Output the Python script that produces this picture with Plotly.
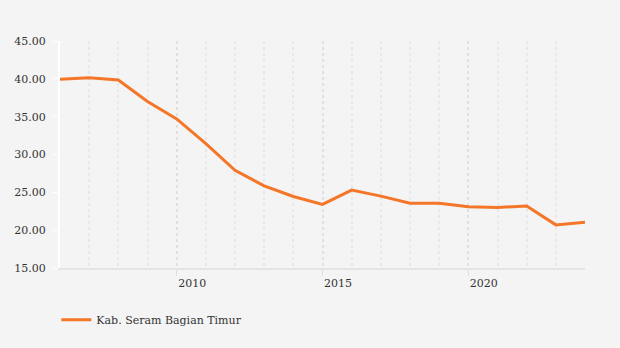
import plotly.graph_objects as go

# Annual series, 2006-2024
years = list(range(2006, 2025))
values = [39.95, 40.15, 39.85, 37.0, 34.7, 31.45, 27.9, 25.85, 24.45, 23.4,
          25.3, 24.5, 23.55, 23.55, 23.1, 23.0, 23.2, 20.7, 21.05]
series_name = "Kab. Seram Bagian Timur"

y_ticks = [15, 20, 25, 30, 35, 40, 45]
y_tick_text = [f"{v:.2f}" for v in y_ticks]

bg = "#f4f4f4"
font_color = "#333333"
serif = "DejaVu Serif, Liberation Serif, serif"

fig = go.Figure()
fig.add_trace(go.Scatter(
    x=years, y=values, mode="lines", name=series_name,
    line=dict(color="#f47629", width=3),
))

fig.update_layout(
    width=620, height=348,
    margin=dict(l=60, r=35, t=41, b=80),
    paper_bgcolor=bg, plot_bgcolor=bg,
    font=dict(family=serif, size=11, color=font_color),
    showlegend=True,
    legend=dict(orientation="h", x=-0.007, xanchor="left", y=-0.228, yanchor="middle",
                font=dict(family=serif, size=11, color=font_color),
                bgcolor="rgba(0,0,0,0)"),
    xaxis=dict(
        range=[2006, 2024], tick0=2010, dtick=5,
        showline=True, linecolor="#e4e4e4", linewidth=2,
        ticks="outside", ticklen=6, tickcolor="#e0e0e0", tickwidth=1,
        ticklabelposition="outside right", ticklabelstandoff=4,
        tickfont=dict(family=serif, size=11, color=font_color),
        showgrid=True, gridcolor="#e0e0e0", griddash="dot", gridwidth=2,
        minor=dict(dtick=1, showgrid=True, gridcolor="#e8e8e8", griddash="dot", gridwidth=1.5),
        zeroline=False, fixedrange=True,
    ),
    yaxis=dict(
        range=[15, 45], tickvals=y_ticks, ticktext=y_tick_text,
        showline=True, linecolor="#ffffff", linewidth=2,
        ticks="outside", ticklen=5, tickcolor="#ffffff",
        ticklabelstandoff=5,
        tickfont=dict(family=serif, size=11, color=font_color),
        showgrid=False, zeroline=False, fixedrange=True,
    ),
)

fig.write_html("out.html")
